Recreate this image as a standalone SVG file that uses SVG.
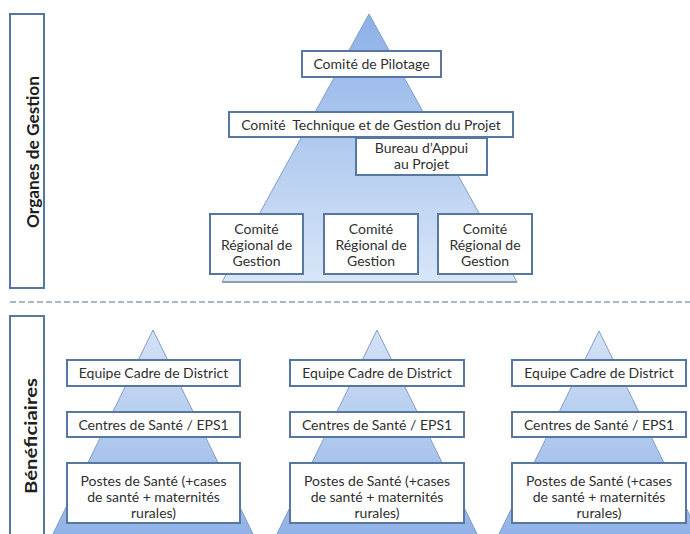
<svg xmlns="http://www.w3.org/2000/svg" width="690" height="534" viewBox="0 0 690 534">
<defs>
<linearGradient id="gTop" x1="0" y1="0" x2="0" y2="1">
<stop offset="0" stop-color="#8db0e8"/>
<stop offset="1" stop-color="#d8e6f8"/>
</linearGradient>
<linearGradient id="gSmall" x1="0" y1="0" x2="0" y2="1">
<stop offset="0" stop-color="#d3e2f6"/>
<stop offset="1" stop-color="#8fb1e6"/>
</linearGradient>
</defs>
<style>
.box{fill:#ffffff;stroke:#56779f;stroke-width:2}
.lbl{fill:#ffffff;stroke:#56779f;stroke-width:2}
.pyr{stroke:#7f9dc4;stroke-width:1}
.t{font-family:Lato,"Open Sans","Liberation Sans",sans-serif;font-size:14px;fill:#2f2f2f;text-anchor:middle}
.side{font-family:Lato,"Open Sans","Liberation Sans",sans-serif;font-size:17px;font-weight:bold;fill:#1e1e1e;text-anchor:middle}
.dash{stroke:#a9b7c6;stroke-width:2;stroke-dasharray:6 3;fill:none}
</style>
<rect width="690" height="534" fill="#ffffff"/>

<g id="background">
<polygon class="pyr" points="369,14 517,282 222,282" fill="url(#gTop)"/>
<line x1="222" y1="282" x2="517" y2="282" stroke="#8d9db2" stroke-width="2"/>
<polygon class="pyr" points="153,330 256,540 50,540" fill="url(#gSmall)"/>
<polygon class="pyr" points="377,330 480,540 274,540" fill="url(#gSmall)"/>
<polygon class="pyr" points="599,331 702,540 496,540" fill="url(#gSmall)"/>
<line class="dash" x1="10" y1="302" x2="690" y2="302"/>
</g>

<g id="connectors"></g>

<g id="label-organes">
<rect class="lbl" x="10" y="14" width="34" height="274"/>
<text class="side" transform="translate(39,152) rotate(-90)" textLength="152" lengthAdjust="spacingAndGlyphs">Organes de Gestion</text>
</g>
<g id="label-beneficiaires">
<rect class="lbl" x="10" y="316" width="34" height="230"/>
<text class="side" transform="translate(37,436) rotate(-90)" textLength="116" lengthAdjust="spacingAndGlyphs">Bénéficiaires</text>
</g>

<g id="comite-pilotage">
<rect class="box" x="302" y="51" width="139" height="26"/>
<text class="t" x="371.5" y="69">Comité de Pilotage</text>
</g>
<g id="comite-technique">
<rect class="box" x="229" y="112" width="284" height="25"/>
<text class="t" x="371" y="129.5" xml:space="preserve">Comité  Technique et de Gestion du Projet</text>
</g>
<g id="bureau-appui">
<rect class="box" x="356" y="138" width="131" height="37"/>
<text class="t" x="421.5" y="153">Bureau d’Appui</text>
<text class="t" x="421.5" y="169">au Projet</text>
</g>
<g id="comite-regional-1">
<rect class="box" x="210" y="214" width="93" height="60"/>
<text class="t" x="256.5" y="234">Comité</text>
<text class="t" x="256.5" y="250">Régional de</text>
<text class="t" x="256.5" y="266">Gestion</text>
</g>
<g id="comite-regional-2">
<rect class="box" x="324" y="214" width="94" height="60"/>
<text class="t" x="371" y="234">Comité</text>
<text class="t" x="371" y="250">Régional de</text>
<text class="t" x="371" y="266">Gestion</text>
</g>
<g id="comite-regional-3">
<rect class="box" x="438" y="214" width="94" height="60"/>
<text class="t" x="485" y="234">Comité</text>
<text class="t" x="485" y="250">Régional de</text>
<text class="t" x="485" y="266">Gestion</text>
</g>

<g id="ecd-1">
<rect class="box" x="67" y="360" width="173" height="26"/>
<text class="t" x="153.5" y="378">Equipe Cadre de District</text>
</g>
<g id="cs-1">
<rect class="box" x="67" y="412" width="173" height="25"/>
<text class="t" x="153.5" y="429.5">Centres de Santé / EPS1</text>
</g>
<g id="ps-1">
<rect class="box" x="67" y="463" width="173" height="60"/>
<text class="t" x="153.5" y="486">Postes de Santé (+cases</text>
<text class="t" x="153.5" y="502">de santé + maternités</text>
<text class="t" x="153.5" y="518">rurales)</text>
</g>

<g id="ecd-2">
<rect class="box" x="290" y="360" width="174" height="26"/>
<text class="t" x="377" y="378">Equipe Cadre de District</text>
</g>
<g id="cs-2">
<rect class="box" x="290" y="412" width="174" height="25"/>
<text class="t" x="377" y="429.5">Centres de Santé / EPS1</text>
</g>
<g id="ps-2">
<rect class="box" x="290" y="463" width="174" height="60"/>
<text class="t" x="377" y="486">Postes de Santé (+cases</text>
<text class="t" x="377" y="502">de santé + maternités</text>
<text class="t" x="377" y="518">rurales)</text>
</g>

<g id="ecd-3">
<rect class="box" x="512" y="360" width="174" height="26"/>
<text class="t" x="599" y="378">Equipe Cadre de District</text>
</g>
<g id="cs-3">
<rect class="box" x="512" y="412" width="174" height="25"/>
<text class="t" x="599" y="429.5">Centres de Santé / EPS1</text>
</g>
<g id="ps-3">
<rect class="box" x="512" y="463" width="174" height="60"/>
<text class="t" x="599" y="486">Postes de Santé (+cases</text>
<text class="t" x="599" y="502">de santé + maternités</text>
<text class="t" x="599" y="518">rurales)</text>
</g>
</svg>
